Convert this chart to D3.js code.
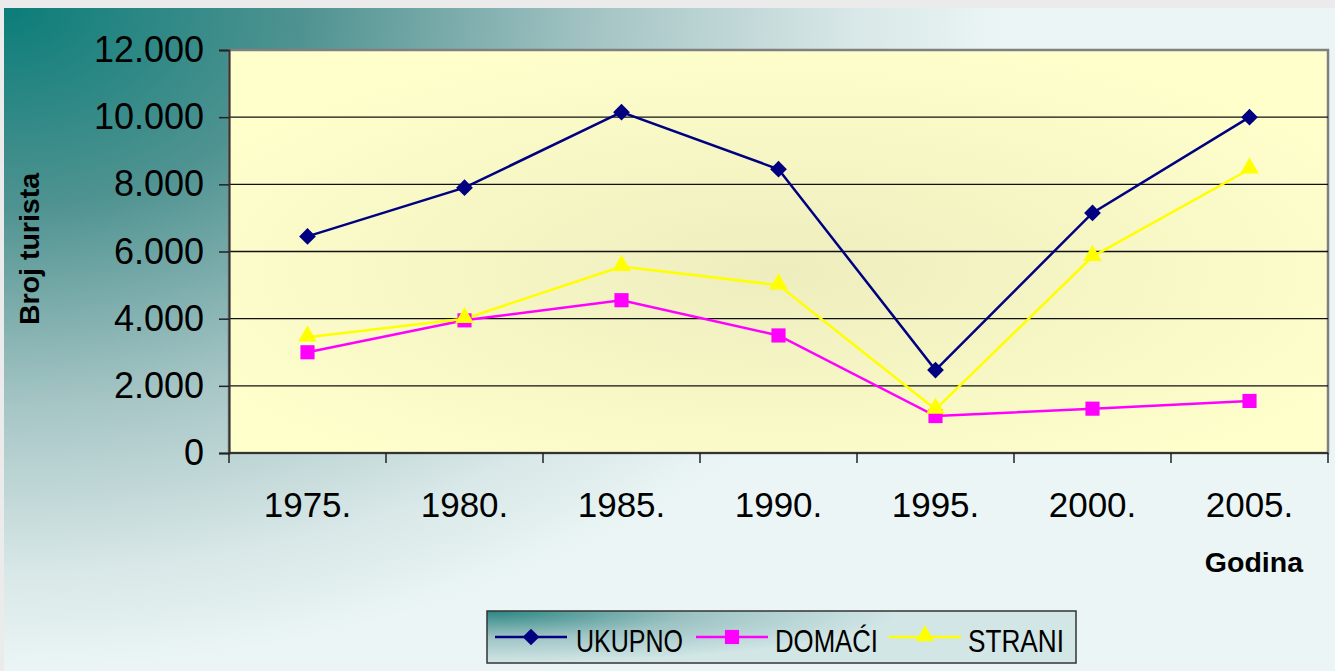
<!DOCTYPE html>
<html>
<head>
<meta charset="utf-8">
<script src="https://cdn.jsdelivr.net/npm/d3@7/dist/d3.min.js"></script>
<style>
  body {margin: 0; background: #ebebeb; overflow: hidden;}
  text {font-family: "Liberation Sans", Arial, sans-serif;}
</style>
</head>
<body>
<div id="graph"></div>
<script>
const years = ['1975.', '1980.', '1985.', '1990.', '1995.', '2000.', '2005.'];
const ukupno = [6450, 7900, 10150, 8450, 2470, 7150, 10000];
const domaci = [3000, 3950, 4550, 3500, 1100, 1320, 1550];
const strani = [3450, 4000, 5550, 5000, 1300, 5850, 8450];
const yTicks = [0, 2000, 4000, 6000, 8000, 10000, 12000];
const yTickLabels = ['0', '2.000', '4.000', '6.000', '8.000', '10.000', '12.000'];
const seriesNames = ['UKUPNO', 'DOMAĆI', 'STRANI'];
const seriesColors = ['#000080', '#ff00ff', '#ffff00'];

const w = 1335;
const h = 671;
const plot = {left: 229, top: 50, right: 1328, bottom: 453};

const svg = d3.select('#graph')
              .append('svg')
              .attr('width', w)
              .attr('height', h)
const defs = svg.append('defs')

// background fades from teal in the top left corner
const bg = defs.append('radialGradient')
               .attr('id', 'bg')
               .attr('cx', 0).attr('cy', 0).attr('r', 1)
               .attr('gradientTransform', 'scale(0.75,1)')
bg.append('stop').attr('offset', 0).attr('stop-color', '#0b7d79')
bg.append('stop').attr('offset', 0.3).attr('stop-color', '#4f9391')
bg.append('stop').attr('offset', 0.6).attr('stop-color', '#a6c5c5')
bg.append('stop').attr('offset', 0.85).attr('stop-color', '#d8e7e7')
bg.append('stop').attr('offset', 1).attr('stop-color', '#ebf5f5')

// plot area: light yellow, a bit darker in the middle
const pg = defs.append('radialGradient')
               .attr('id', 'pg')
               .attr('cx', 0.5).attr('cy', 0.55).attr('r', 0.6)
pg.append('stop').attr('offset', 0).attr('stop-color', '#eeedbe')
pg.append('stop').attr('offset', 1).attr('stop-color', '#ffffcc')

const lg = defs.append('radialGradient')
               .attr('id', 'lg')
               .attr('cx', 0).attr('cy', 0).attr('r', 1)
               .attr('gradientTransform', 'scale(0.7,1)')
lg.append('stop').attr('offset', 0).attr('stop-color', '#2a8683')
lg.append('stop').attr('offset', 0.5).attr('stop-color', '#9dc3c3')
lg.append('stop').attr('offset', 1).attr('stop-color', '#d2e6e6')

svg.append('rect')
   .attr('x', 4)
   .attr('y', 8)
   .attr('width', w - 4)
   .attr('height', h - 8)
   .attr('fill', 'url(#bg)')

const xScale = d3.scaleBand()
                 .domain(years)
                 .range([plot.left, plot.right])
const yScale = d3.scaleLinear()
                 .domain([0, 12000])
                 .range([plot.bottom, plot.top])

svg.append('rect')
   .attr('x', plot.left)
   .attr('y', plot.top)
   .attr('width', plot.right - plot.left)
   .attr('height', plot.bottom - plot.top)
   .attr('fill', 'url(#pg)')
   .attr('stroke', '#808080')
   .attr('stroke-width', 2.5)

// gridlines
svg.append('g')
   .selectAll('line')
   .data(yTicks.slice(1, -1))
   .enter()
   .append('line')
   .attr('x1', plot.left)
   .attr('x2', plot.right)
   .attr('y1', d => yScale(d))
   .attr('y2', d => yScale(d))
   .attr('stroke', '#111')
   .attr('stroke-width', 1.3)

// y axis
const yAxis = svg.append('g')
                 .attr('transform', `translate(${plot.left},0)`)
                 .call(d3.axisLeft(yScale)
                         .tickValues(yTicks)
                         .tickSize(10)
                         .tickPadding(15)
                         .tickFormat((d, i) => yTickLabels[i]))
yAxis.select('.domain').attr('stroke', '#333').attr('stroke-width', 2)
yAxis.selectAll('.tick line').attr('stroke', '#222').attr('stroke-width', 1.5)
yAxis.selectAll('text')
     .attr('font-size', 36)
     .attr('font-family', '"Liberation Sans", Arial, sans-serif')
     .attr('fill', '#000')

// x axis, ticks between categories
const xAxis = svg.append('g')
                 .attr('transform', `translate(0,${plot.bottom})`)
xAxis.append('line')
     .attr('x1', plot.left)
     .attr('x2', plot.right)
     .attr('stroke', '#333')
     .attr('stroke-width', 2)
xAxis.selectAll('.tk')
     .data(years.concat(['end']))
     .enter()
     .append('line')
     .attr('class', 'tk')
     .attr('x1', (d, i) => plot.left + i * xScale.bandwidth())
     .attr('x2', (d, i) => plot.left + i * xScale.bandwidth())
     .attr('y1', 0)
     .attr('y2', 10)
     .attr('stroke', '#222')
     .attr('stroke-width', 1.5)
xAxis.selectAll('.lbl')
     .data(years)
     .enter()
     .append('text')
     .attr('class', 'lbl')
     .attr('x', d => xScale(d) + xScale.bandwidth() / 2)
     .attr('y', 64)
     .attr('text-anchor', 'middle')
     .attr('font-size', 35)
     .text(d => d)

// axis titles
svg.append('text')
   .attr('transform', 'translate(39,249) rotate(-90)')
   .attr('text-anchor', 'middle')
   .attr('font-size', 28.5)
   .attr('font-weight', 'bold')
   .text('Broj turista')
svg.append('text')
   .attr('x', 1303)
   .attr('y', 572)
   .attr('text-anchor', 'end')
   .attr('font-size', 28.5)
   .attr('font-weight', 'bold')
   .text('Godina')

// markers: diamond, square, triangle
function marker(g, k) {
  if (k === 0) {
    return g.append('path')
            .attr('d', d3.symbol().type(d3.symbolSquare).size(140)())
            .attr('transform', 'rotate(45)')
            .attr('fill', seriesColors[k])
  }
  if (k === 1) {
    return g.append('path')
            .attr('d', d3.symbol().type(d3.symbolSquare).size(200)())
            .attr('fill', seriesColors[k])
  }
  return g.append('path')
          .attr('d', d3.symbol().type(d3.symbolTriangle).size(150)())
          .attr('transform', 'translate(0,-1)')
          .attr('fill', seriesColors[k])
}

const line = d3.line()
               .x((d, i) => xScale(years[i]) + xScale.bandwidth() / 2)
               .y(d => yScale(d))

const allSeries = [ukupno, domaci, strani];
allSeries.forEach((s, k) => {
  svg.append('path')
     .attr('d', line(s))
     .attr('fill', 'none')
     .attr('stroke', seriesColors[k])
     .attr('stroke-width', 2.5)
})
// markers on top of all lines
allSeries.forEach((s, k) => {
  s.forEach((v, i) => {
    const g = svg.append('g')
                 .attr('transform', `translate(${xScale(years[i]) + xScale.bandwidth() / 2},${yScale(v)})`)
    marker(g, k)
  })
})

// legend
const legend = svg.append('g')
legend.append('rect')
      .attr('x', 487)
      .attr('y', 611)
      .attr('width', 589)
      .attr('height', 52)
      .attr('fill', 'url(#lg)')
      .attr('stroke', '#333')
      .attr('stroke-width', 1.5)
const legX = [495, 696, 889];
const legTextX = [576, 775, 968];
const legTextW = [107, 103, 96];
seriesNames.forEach((name, k) => {
  legend.append('line')
        .attr('x1', legX[k])
        .attr('x2', legX[k] + 72)
        .attr('y1', 637)
        .attr('y2', 637)
        .attr('stroke', seriesColors[k])
        .attr('stroke-width', 2.5)
  const g = legend.append('g')
                  .attr('transform', `translate(${legX[k] + 36},637)`)
  marker(g, k)
  legend.append('text')
        .attr('x', legTextX[k])
        .attr('y', 652)
        .attr('font-size', 31)
        .attr('textLength', legTextW[k])
        .attr('lengthAdjust', 'spacingAndGlyphs')
        .text(name)
})
</script>
</body>
</html>
